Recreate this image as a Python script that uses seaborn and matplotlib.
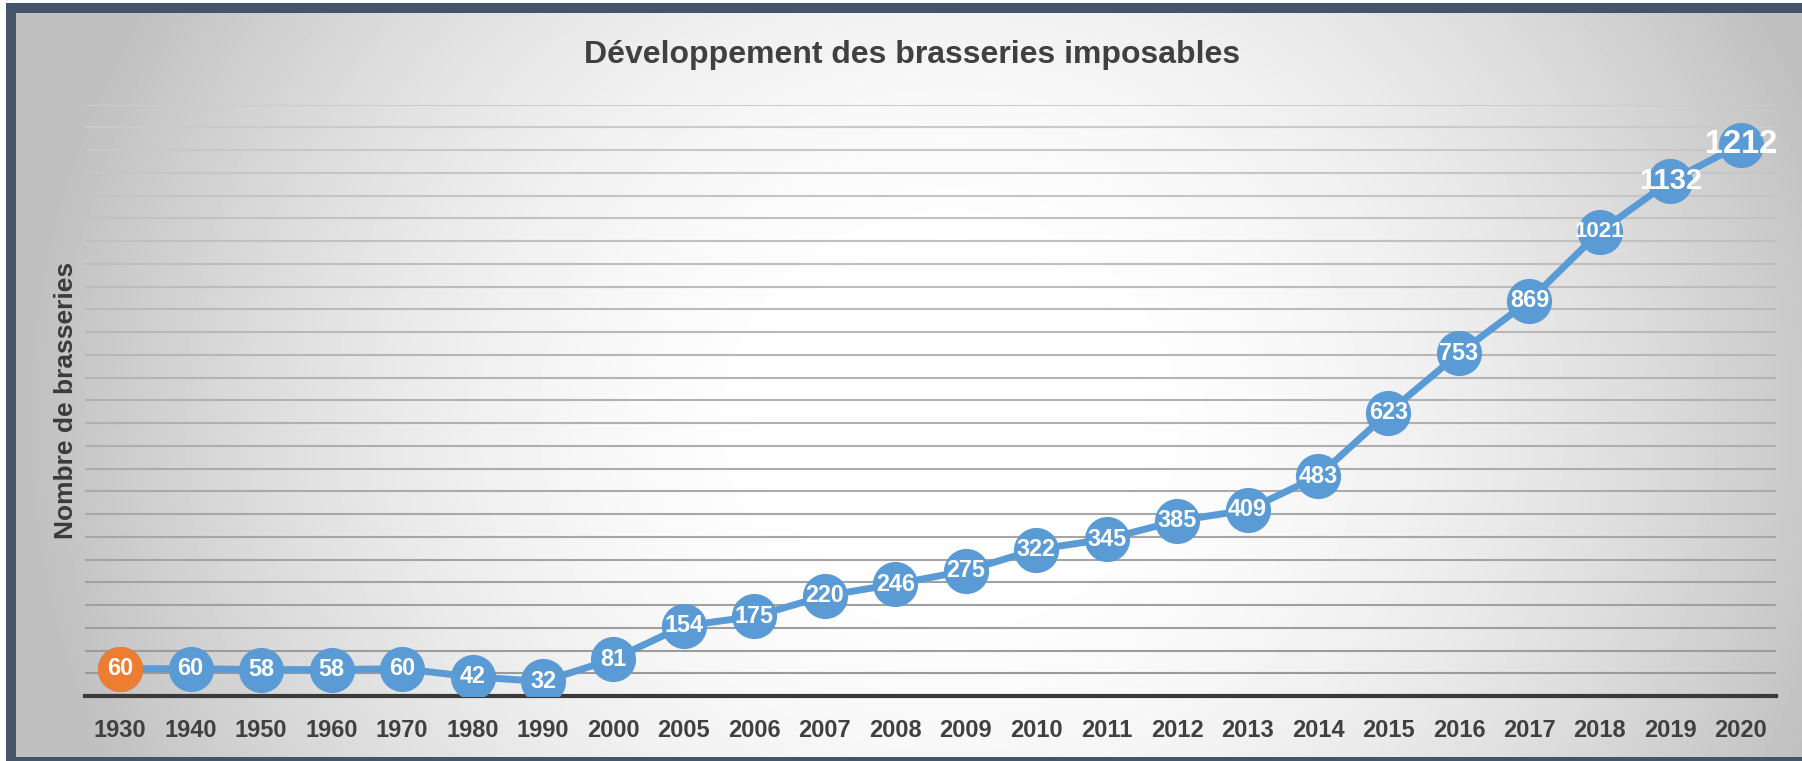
import numpy as np
import pandas as pd
import seaborn as sns
import matplotlib.pyplot as plt
from matplotlib.patches import Rectangle

annees = ['1930', '1940', '1950', '1960', '1970', '1980', '1990', '2000',
          '2005', '2006', '2007', '2008', '2009', '2010', '2011', '2012',
          '2013', '2014', '2015', '2016', '2017', '2018', '2019', '2020']
brasseries = [60, 60, 58, 58, 60, 42, 32, 81, 154, 175, 220, 246, 275, 322,
              345, 385, 409, 483, 623, 753, 869, 1021, 1132, 1212]

BLEU = '#5B9BD5'
ORANGE = '#ED7D31'
TEXTE = '#404040'

sns.set_theme(style='white')
plt.rcParams['font.family'] = ['Liberation Sans', 'DejaVu Sans']

W, H = 1802, 761
fig = plt.figure(figsize=(W / 100, H / 100), dpi=100)
fig.patch.set_facecolor('white')

# fond en degrade radial + cadre
bg = fig.add_axes([0, 0, 1, 1], zorder=0)
yy, xx = np.mgrid[0:H, 0:W]
r2 = ((xx - 950) / 870) ** 2 + ((yy - 420) / 800) ** 2
shade = np.clip(257 - 58 * r2, 192, 255) / 255
bg.imshow(shade, cmap='gray', vmin=0, vmax=1, extent=[0, W, H, 0],
          aspect='auto', interpolation='bilinear')
bg.add_patch(Rectangle((0, 0), 6, H, color='white', lw=0))
bg.add_patch(Rectangle((0, 0), W, 3, color='white', lw=0))
bg.add_patch(Rectangle((6, 3), 10, H, color='#44546A', lw=0))
bg.add_patch(Rectangle((6, 3), W, 10, color='#44546A', lw=0))
bg.add_patch(Rectangle((6, 757), W, 4, color='#44546A', lw=0))
bg.set_xlim(0, W)
bg.set_ylim(H, 0)
bg.axis('off')

ax = fig.add_axes([85 / W, 1 - 696 / H, (1776 - 85) / W, (696 - 104.6) / H], zorder=1)
ax.patch.set_alpha(0)

df = pd.DataFrame({'Année': annees, 'Brasseries': brasseries})
sns.lineplot(data=df, x='Année', y='Brasseries', ax=ax, color=BLEU,
             linewidth=5, marker='o', markersize=32.5, markeredgewidth=0, zorder=3)
ax.plot(annees[0], brasseries[0], 'o', ms=32.5, color=ORANGE, mew=0, zorder=4)

tailles = {1021: 16, 1132: 21, 1212: 23.5}
for i, v in enumerate(brasseries):
    ax.text(i, v, str(v), ha='center', va='center', color='white',
            fontsize=tailles.get(v, 16.8), fontweight='bold', zorder=5)

# lignes de quadrillage plus sombres vers le bas
for yv in range(50, 1301, 50):
    g = (0x98 + (0xcc - 0x98) * yv / 1300) / 255
    ax.axhline(yv, color=(g, g, g), lw=1.5, zorder=1)

ax.set_xlim(-0.5, 23.5)
ax.set_ylim(0, 1300)
ax.set_yticks([])
ax.set_xlabel('')
ax.set_ylabel('')
for s in ['top', 'left', 'right']:
    ax.spines[s].set_visible(False)
ax.spines['bottom'].set_color('#3a3a3a')
ax.spines['bottom'].set_linewidth(3)
ax.spines['bottom'].set_zorder(2.5)
ax.tick_params(axis='x', length=0, pad=16.5, labelsize=17, labelcolor=TEXTE)
for lbl in ax.get_xticklabels():
    lbl.set_fontweight('bold')

fig.text(912 / W, 1 - 63 / H, 'Développement des brasseries imposables',
         ha='center', va='baseline', fontsize=23, fontweight='bold', color=TEXTE)
fig.text(66 / W, 1 - 400 / H, 'Nombre de brasseries', rotation=90,
         ha='center', va='center', fontsize=19, fontweight='bold', color='#3b3b3b')

fig.savefig('out.png', dpi=100)
